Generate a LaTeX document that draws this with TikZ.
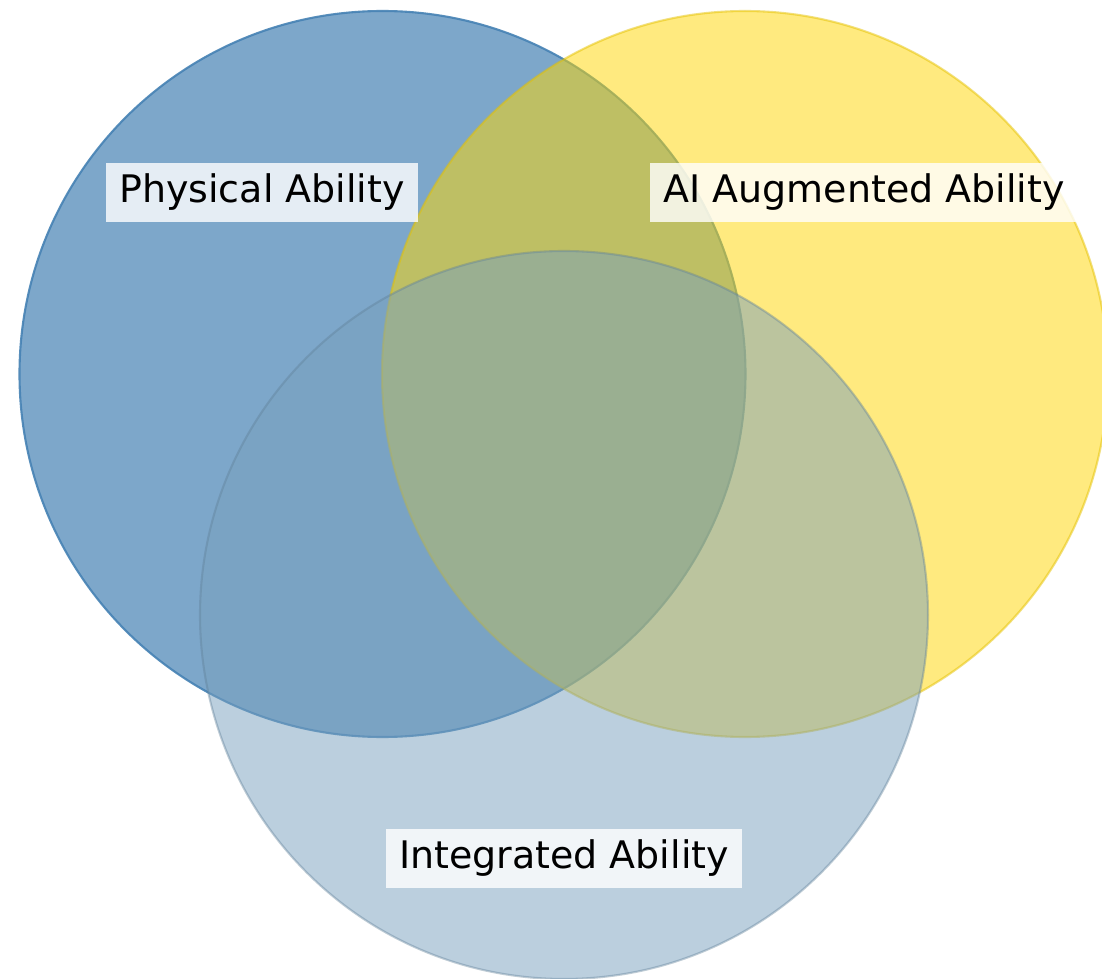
\documentclass[tikz,border=0pt]{standalone}
\usepackage{fontspec}
\setmainfont{DejaVu Sans}
\definecolor{physblue}{RGB}{70,130,180}
\definecolor{augyellow}{RGB}{255,215,0}
\definecolor{integblue}{RGB}{120,160,190}
\tikzset{
  physset/.style={fill=physblue, fill opacity=0.7, draw=physblue, draw opacity=0.9, line width=0.6pt},
  augset/.style={fill=augyellow, fill opacity=0.5, draw=augyellow!90!black, draw opacity=0.5, line width=0.6pt},
  integset/.style={fill=integblue, fill opacity=0.5, draw=integblue!80!black, draw opacity=0.4, line width=0.6pt},
  setlabel/.style={fill=white, fill opacity=0.8, text opacity=1, font=\fontsize{10.8}{12}\selectfont,
    text height=0.27cm, text depth=0.06cm, inner xsep=0.13cm, inner ysep=0.13cm}
}
\begin{document}
\begin{tikzpicture}
        \useasboundingbox (0,0) rectangle (11.02,-9.79);
        \fill[white] (0,0) rectangle (11.02,-9.79);
        \draw[physset] (3.825,-3.74) circle[radius=3.63cm];   % physical
        \draw[augset] (7.45,-3.74) circle[radius=3.63cm];     % AI augmented
        \draw[integset] (5.64,-6.15) circle[radius=3.64cm];   % integrated

        \node[setlabel] (physlabel) at (2.62,-1.925) {Physical Ability};
        \node[setlabel] (auglabel) at (8.64,-1.925) {AI Augmented Ability};
        \node[setlabel] (integlabel) at (5.64,-8.58) {Integrated Ability};
\end{tikzpicture}
\end{document}
